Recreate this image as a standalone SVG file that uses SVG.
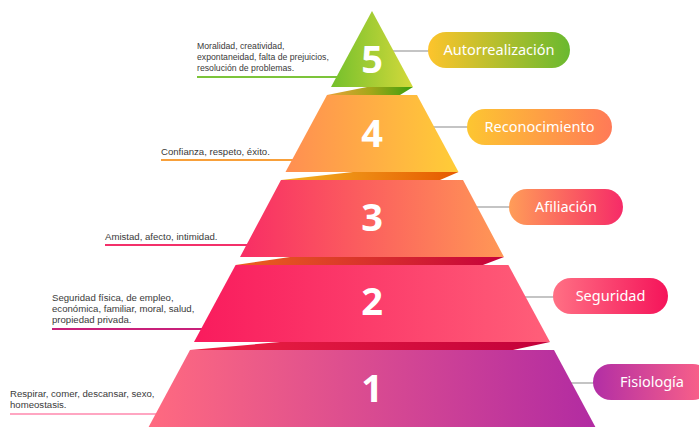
<svg xmlns="http://www.w3.org/2000/svg" width="699" height="428" viewBox="0 0 699 428">
<defs>
<linearGradient id="t5" x1="0" y1="0" x2="1" y2="0"><stop offset="0" stop-color="#74c02c"/><stop offset="1" stop-color="#d4d93b"/></linearGradient>
<linearGradient id="t4" x1="0" y1="0" x2="1" y2="0"><stop offset="0" stop-color="#ff8e52"/><stop offset="1" stop-color="#ffcd37"/></linearGradient>
<linearGradient id="t3" x1="0" y1="0" x2="1" y2="0"><stop offset="0" stop-color="#f82d65"/><stop offset="1" stop-color="#ff9856"/></linearGradient>
<linearGradient id="t2" x1="0" y1="0" x2="1" y2="0"><stop offset="0" stop-color="#f91b5d"/><stop offset="1" stop-color="#ff5f79"/></linearGradient>
<linearGradient id="t1" x1="0" y1="0" x2="1" y2="0"><stop offset="0" stop-color="#ff6a80"/><stop offset="1" stop-color="#b22ba2"/></linearGradient>
<linearGradient id="f54" x1="0" y1="0" x2="1" y2="0"><stop offset="0" stop-color="#eaa23a"/><stop offset="0.5" stop-color="#a5a71a"/><stop offset="1" stop-color="#3c9f0e"/></linearGradient>
<linearGradient id="f43" x1="0" y1="0" x2="1" y2="0"><stop offset="0" stop-color="#f3b322"/><stop offset="1" stop-color="#e65800"/></linearGradient>
<linearGradient id="f32" x1="0" y1="0" x2="1" y2="0"><stop offset="0" stop-color="#ea621c"/><stop offset="1" stop-color="#c6003c"/></linearGradient>
<linearGradient id="f21" x1="0" y1="0" x2="1" y2="0"><stop offset="0" stop-color="#ee2242"/><stop offset="1" stop-color="#c2003a"/></linearGradient>
<linearGradient id="p5" x1="0" y1="0" x2="1" y2="0"><stop offset="0" stop-color="#fdc42c"/><stop offset="1" stop-color="#6ab92f"/></linearGradient>
<linearGradient id="p4" x1="0" y1="0" x2="1" y2="0"><stop offset="0" stop-color="#fdc631"/><stop offset="1" stop-color="#ff7a57"/></linearGradient>
<linearGradient id="p3" x1="0" y1="0" x2="1" y2="0"><stop offset="0" stop-color="#ff9d58"/><stop offset="1" stop-color="#f62b68"/></linearGradient>
<linearGradient id="p2" x1="0" y1="0" x2="1" y2="0"><stop offset="0" stop-color="#ff7084"/><stop offset="1" stop-color="#f5145a"/></linearGradient>
<linearGradient id="p1" x1="0" y1="0" x2="1" y2="0"><stop offset="0" stop-color="#b22ea5"/><stop offset="1" stop-color="#ff6486"/></linearGradient>
</defs>
<style>
.num{font-family:"Noto Sans","Open Sans",sans-serif;font-weight:700;font-size:38px;fill:#fff;text-anchor:middle}
.pill{font-family:"Noto Sans","Open Sans",sans-serif;font-size:14.5px;fill:#fff;text-anchor:middle}
.desc{font-family:"Liberation Sans",Arial,sans-serif;font-size:9.6px;fill:#3a3a3a}
.desc.sm{font-size:8.7px}
.conn{stroke:#c4c4c4;stroke-width:2;fill:none}
.ul{stroke-width:2;fill:none}
</style>
<rect width="699" height="428" fill="#fff"/>
<g id="connectors">
<line class="conn" x1="390" y1="51" x2="430" y2="51"/>
<line class="conn" x1="430" y1="127" x2="469" y2="127"/>
<line class="conn" x1="472" y1="207" x2="511" y2="207"/>
<line class="conn" x1="520" y1="297" x2="555" y2="297"/>
<line class="conn" x1="566" y1="383" x2="595" y2="383"/>
<line class="ul" stroke="#7cc43a" x1="197" y1="77" x2="345" y2="77"/>
<line class="ul" stroke="#f8a03a" x1="161" y1="160" x2="300" y2="160"/>
<line class="ul" stroke="#f3306a" x1="105" y1="245" x2="255" y2="245"/>
<line class="ul" stroke="#c8207a" x1="52" y1="329" x2="210" y2="329"/>
<line class="ul" stroke="#ffa6c2" x1="10" y1="414" x2="165" y2="414"/>
</g>
<g id="tier5">
<polygon points="372,11 413,87 331,87" fill="url(#t5)"/>
<text class="num" x="372" y="73">5</text>
</g>
<g id="fold54"><polygon points="327,95 367,87 413,87 400,95" fill="url(#f54)"/></g>
<g id="tier4">
<polygon points="327,95 417,95 458.5,172 285.5,172" fill="url(#t4)"/>
<text class="num" x="372" y="147">4</text>
</g>
<g id="fold43"><polygon points="281,180 353,172 458.5,172 440,180" fill="url(#f43)"/></g>
<g id="tier3">
<polygon points="281,180 463,180 504,257 240,257" fill="url(#t3)"/>
<text class="num" x="372" y="231">3</text>
</g>
<g id="fold32"><polygon points="235.6,265 290,257 504,257 483,265" fill="url(#f32)"/></g>
<g id="tier2">
<polygon points="235.6,265 508.4,265 550,342 194,342" fill="url(#t2)"/>
<text class="num" x="372" y="315">2</text>
</g>
<g id="fold21"><polygon points="190,350 280,342 550,342 513,350" fill="url(#f21)"/></g>
<g id="tier1">
<polygon points="190,350 554,350 595.4,427 148.6,427" fill="url(#t1)"/>
<text class="num" x="372" y="402">1</text>
</g>
<g id="label5">
<rect x="428" y="32" width="142" height="36" rx="18" fill="url(#p5)"/>
<text class="pill" x="499" y="55">Autorrealización</text>
</g>
<g id="label4">
<rect x="467" y="109" width="145" height="36" rx="18" fill="url(#p4)"/>
<text class="pill" x="539.5" y="132">Reconocimiento</text>
</g>
<g id="label3">
<rect x="509" y="189" width="114" height="36" rx="18" fill="url(#p3)"/>
<text class="pill" x="566" y="212">Afiliación</text>
</g>
<g id="label2">
<rect x="553" y="278" width="115" height="36" rx="18" fill="url(#p2)"/>
<text class="pill" x="610.5" y="301">Seguridad</text>
</g>
<g id="label1">
<rect x="593" y="364" width="118" height="36" rx="18" fill="url(#p1)"/>
<text class="pill" x="652" y="387">Fisiología</text>
</g>
<g id="desc5">
<text class="desc sm" x="197" y="49">Moralidad, creatividad,</text>
<text class="desc sm" x="197" y="60">expontaneidad, falta de prejuicios,</text>
<text class="desc sm" x="197" y="71">resolución de problemas.</text>
</g>
<g id="desc4"><text class="desc" x="161" y="155">Confianza, respeto, éxito.</text></g>
<g id="desc3"><text class="desc" x="105" y="240">Amistad, afecto, intimidad.</text></g>
<g id="desc2">
<text class="desc" x="52" y="301">Seguridad física, de empleo,</text>
<text class="desc" x="52" y="312">económica, familiar, moral, salud,</text>
<text class="desc" x="52" y="323">propiedad privada.</text>
</g>
<g id="desc1">
<text class="desc" x="10" y="397">Respirar, comer, descansar, sexo,</text>
<text class="desc" x="10" y="408">homeostasis.</text>
</g>
</svg>
